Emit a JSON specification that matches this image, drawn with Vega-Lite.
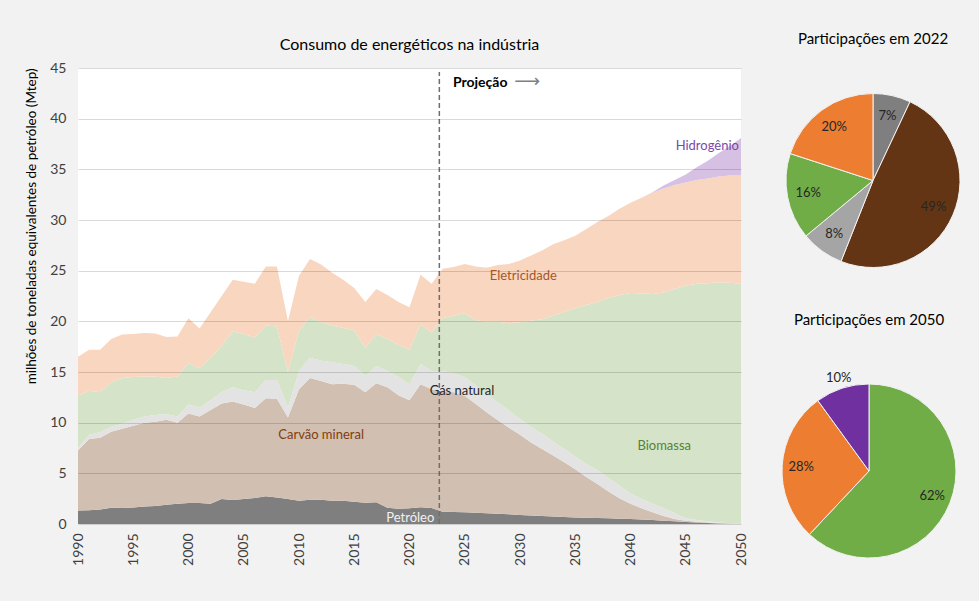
{
  "$schema": "https://vega.github.io/schema/vega-lite/v6.json",
  "background": "#f2f2f2",
  "padding": {"left": 24, "top": 32, "right": 17, "bottom": 35},
  "config": {"font": "Lato", "view": {"stroke": null}},
  "bounds": "flush",
  "spacing": 45,
  "datasets": {
    "energy": [
      {"year":1990,"series":"Petróleo","value":1.32},{"year":1990,"series":"Carvão mineral","value":5.93},{"year":1990,"series":"Gás natural","value":0.25},{"year":1990,"series":"Biomassa","value":5.15},{"year":1990,"series":"Eletricidade","value":3.85},
      {"year":1991,"series":"Petróleo","value":1.36},{"year":1991,"series":"Carvão mineral","value":7.04},{"year":1991,"series":"Gás natural","value":0.40},{"year":1991,"series":"Biomassa","value":4.35},{"year":1991,"series":"Eletricidade","value":4.05},
      {"year":1992,"series":"Petróleo","value":1.42},{"year":1992,"series":"Carvão mineral","value":7.08},{"year":1992,"series":"Gás natural","value":0.55},{"year":1992,"series":"Biomassa","value":3.95},{"year":1992,"series":"Eletricidade","value":4.20},
      {"year":1993,"series":"Petróleo","value":1.60},{"year":1993,"series":"Carvão mineral","value":7.50},{"year":1993,"series":"Gás natural","value":0.50},{"year":1993,"series":"Biomassa","value":4.40},{"year":1993,"series":"Eletricidade","value":4.25},
      {"year":1994,"series":"Petróleo","value":1.58},{"year":1994,"series":"Carvão mineral","value":7.82},{"year":1994,"series":"Gás natural","value":0.50},{"year":1994,"series":"Biomassa","value":4.50},{"year":1994,"series":"Eletricidade","value":4.30},
      {"year":1995,"series":"Petróleo","value":1.62},{"year":1995,"series":"Carvão mineral","value":8.08},{"year":1995,"series":"Gás natural","value":0.60},{"year":1995,"series":"Biomassa","value":4.20},{"year":1995,"series":"Eletricidade","value":4.25},
      {"year":1996,"series":"Petróleo","value":1.72},{"year":1996,"series":"Carvão mineral","value":8.28},{"year":1996,"series":"Gás natural","value":0.60},{"year":1996,"series":"Biomassa","value":3.95},{"year":1996,"series":"Eletricidade","value":4.30},
      {"year":1997,"series":"Petróleo","value":1.78},{"year":1997,"series":"Carvão mineral","value":8.32},{"year":1997,"series":"Gás natural","value":0.65},{"year":1997,"series":"Biomassa","value":3.80},{"year":1997,"series":"Eletricidade","value":4.25},
      {"year":1998,"series":"Petróleo","value":1.90},{"year":1998,"series":"Carvão mineral","value":8.40},{"year":1998,"series":"Gás natural","value":0.55},{"year":1998,"series":"Biomassa","value":3.55},{"year":1998,"series":"Eletricidade","value":4.05},
      {"year":1999,"series":"Petróleo","value":2.00},{"year":1999,"series":"Carvão mineral","value":8.00},{"year":1999,"series":"Gás natural","value":0.60},{"year":1999,"series":"Biomassa","value":3.95},{"year":1999,"series":"Eletricidade","value":3.95},
      {"year":2000,"series":"Petróleo","value":2.07},{"year":2000,"series":"Carvão mineral","value":8.83},{"year":2000,"series":"Gás natural","value":0.90},{"year":2000,"series":"Biomassa","value":4.10},{"year":2000,"series":"Eletricidade","value":4.40},
      {"year":2001,"series":"Petróleo","value":2.07},{"year":2001,"series":"Carvão mineral","value":8.53},{"year":2001,"series":"Gás natural","value":0.90},{"year":2001,"series":"Biomassa","value":3.90},{"year":2001,"series":"Eletricidade","value":3.90},
      {"year":2002,"series":"Petróleo","value":2.00},{"year":2002,"series":"Carvão mineral","value":9.25},{"year":2002,"series":"Gás natural","value":0.95},{"year":2002,"series":"Biomassa","value":4.20},{"year":2002,"series":"Eletricidade","value":4.50},
      {"year":2003,"series":"Petróleo","value":2.47},{"year":2003,"series":"Carvão mineral","value":9.43},{"year":2003,"series":"Gás natural","value":1.10},{"year":2003,"series":"Biomassa","value":4.60},{"year":2003,"series":"Eletricidade","value":4.90},
      {"year":2004,"series":"Petróleo","value":2.37},{"year":2004,"series":"Carvão mineral","value":9.73},{"year":2004,"series":"Gás natural","value":1.40},{"year":2004,"series":"Biomassa","value":5.50},{"year":2004,"series":"Eletricidade","value":5.10},
      {"year":2005,"series":"Petróleo","value":2.47},{"year":2005,"series":"Carvão mineral","value":9.33},{"year":2005,"series":"Gás natural","value":1.40},{"year":2005,"series":"Biomassa","value":5.55},{"year":2005,"series":"Eletricidade","value":5.15},
      {"year":2006,"series":"Petróleo","value":2.57},{"year":2006,"series":"Carvão mineral","value":8.88},{"year":2006,"series":"Gás natural","value":1.55},{"year":2006,"series":"Biomassa","value":5.40},{"year":2006,"series":"Eletricidade","value":5.30},
      {"year":2007,"series":"Petróleo","value":2.75},{"year":2007,"series":"Carvão mineral","value":9.65},{"year":2007,"series":"Gás natural","value":1.80},{"year":2007,"series":"Biomassa","value":5.40},{"year":2007,"series":"Eletricidade","value":5.80},
      {"year":2008,"series":"Petróleo","value":2.62},{"year":2008,"series":"Carvão mineral","value":9.73},{"year":2008,"series":"Gás natural","value":1.85},{"year":2008,"series":"Biomassa","value":5.30},{"year":2008,"series":"Eletricidade","value":5.90},
      {"year":2009,"series":"Petróleo","value":2.47},{"year":2009,"series":"Carvão mineral","value":8.03},{"year":2009,"series":"Gás natural","value":1.00},{"year":2009,"series":"Biomassa","value":3.50},{"year":2009,"series":"Eletricidade","value":5.00},
      {"year":2010,"series":"Petróleo","value":2.30},{"year":2010,"series":"Carvão mineral","value":11.00},{"year":2010,"series":"Gás natural","value":1.80},{"year":2010,"series":"Biomassa","value":4.00},{"year":2010,"series":"Eletricidade","value":5.40},
      {"year":2011,"series":"Petróleo","value":2.40},{"year":2011,"series":"Carvão mineral","value":12.00},{"year":2011,"series":"Gás natural","value":2.00},{"year":2011,"series":"Biomassa","value":4.00},{"year":2011,"series":"Eletricidade","value":5.75},
      {"year":2012,"series":"Petróleo","value":2.40},{"year":2012,"series":"Carvão mineral","value":11.70},{"year":2012,"series":"Gás natural","value":2.00},{"year":2012,"series":"Biomassa","value":3.80},{"year":2012,"series":"Eletricidade","value":5.70},
      {"year":2013,"series":"Petróleo","value":2.30},{"year":2013,"series":"Carvão mineral","value":11.50},{"year":2013,"series":"Gás natural","value":2.15},{"year":2013,"series":"Biomassa","value":3.65},{"year":2013,"series":"Eletricidade","value":5.20},
      {"year":2014,"series":"Petróleo","value":2.30},{"year":2014,"series":"Carvão mineral","value":11.55},{"year":2014,"series":"Gás natural","value":1.95},{"year":2014,"series":"Biomassa","value":3.55},{"year":2014,"series":"Eletricidade","value":4.75},
      {"year":2015,"series":"Petróleo","value":2.20},{"year":2015,"series":"Carvão mineral","value":11.55},{"year":2015,"series":"Gás natural","value":1.85},{"year":2015,"series":"Biomassa","value":3.50},{"year":2015,"series":"Eletricidade","value":4.20},
      {"year":2016,"series":"Petróleo","value":2.10},{"year":2016,"series":"Carvão mineral","value":10.90},{"year":2016,"series":"Gás natural","value":1.60},{"year":2016,"series":"Biomassa","value":2.80},{"year":2016,"series":"Eletricidade","value":4.50},
      {"year":2017,"series":"Petróleo","value":2.15},{"year":2017,"series":"Carvão mineral","value":11.75},{"year":2017,"series":"Gás natural","value":1.70},{"year":2017,"series":"Biomassa","value":3.15},{"year":2017,"series":"Eletricidade","value":4.45},
      {"year":2018,"series":"Petróleo","value":1.60},{"year":2018,"series":"Carvão mineral","value":11.90},{"year":2018,"series":"Gás natural","value":1.60},{"year":2018,"series":"Biomassa","value":3.15},{"year":2018,"series":"Eletricidade","value":4.35},
      {"year":2019,"series":"Petróleo","value":1.50},{"year":2019,"series":"Carvão mineral","value":11.20},{"year":2019,"series":"Gás natural","value":1.80},{"year":2019,"series":"Biomassa","value":3.20},{"year":2019,"series":"Eletricidade","value":4.20},
      {"year":2020,"series":"Petróleo","value":1.55},{"year":2020,"series":"Carvão mineral","value":10.65},{"year":2020,"series":"Gás natural","value":1.60},{"year":2020,"series":"Biomassa","value":3.40},{"year":2020,"series":"Eletricidade","value":4.20},
      {"year":2021,"series":"Petróleo","value":1.65},{"year":2021,"series":"Carvão mineral","value":12.15},{"year":2021,"series":"Gás natural","value":2.00},{"year":2021,"series":"Biomassa","value":3.90},{"year":2021,"series":"Eletricidade","value":4.90},
      {"year":2022,"series":"Petróleo","value":1.58},{"year":2022,"series":"Carvão mineral","value":11.72},{"year":2022,"series":"Gás natural","value":1.80},{"year":2022,"series":"Biomassa","value":3.80},{"year":2022,"series":"Eletricidade","value":4.80},
      {"year":2023,"series":"Petróleo","value":1.20},{"year":2023,"series":"Carvão mineral","value":11.90},{"year":2023,"series":"Gás natural","value":2.00},{"year":2023,"series":"Biomassa","value":5.20},{"year":2023,"series":"Eletricidade","value":4.90},
      {"year":2024,"series":"Petróleo","value":1.18},{"year":2024,"series":"Carvão mineral","value":11.82},{"year":2024,"series":"Gás natural","value":1.85},{"year":2024,"series":"Biomassa","value":5.70},{"year":2024,"series":"Eletricidade","value":4.80},
      {"year":2025,"series":"Petróleo","value":1.15},{"year":2025,"series":"Carvão mineral","value":11.50},{"year":2025,"series":"Gás natural","value":1.85},{"year":2025,"series":"Biomassa","value":6.30},{"year":2025,"series":"Eletricidade","value":4.85},
      {"year":2026,"series":"Petróleo","value":1.10},{"year":2026,"series":"Carvão mineral","value":10.75},{"year":2026,"series":"Gás natural","value":1.80},{"year":2026,"series":"Biomassa","value":6.45},{"year":2026,"series":"Eletricidade","value":5.30},
      {"year":2027,"series":"Petróleo","value":1.05},{"year":2027,"series":"Carvão mineral","value":9.95},{"year":2027,"series":"Gás natural","value":1.80},{"year":2027,"series":"Biomassa","value":7.15},{"year":2027,"series":"Eletricidade","value":5.35},
      {"year":2028,"series":"Petróleo","value":1.00},{"year":2028,"series":"Carvão mineral","value":9.25},{"year":2028,"series":"Gás natural","value":1.75},{"year":2028,"series":"Biomassa","value":7.95},{"year":2028,"series":"Eletricidade","value":5.60},
      {"year":2029,"series":"Petróleo","value":0.95},{"year":2029,"series":"Carvão mineral","value":8.55},{"year":2029,"series":"Gás natural","value":1.70},{"year":2029,"series":"Biomassa","value":8.60},{"year":2029,"series":"Eletricidade","value":5.85},
      {"year":2030,"series":"Petróleo","value":0.90},{"year":2030,"series":"Carvão mineral","value":7.90},{"year":2030,"series":"Gás natural","value":1.55},{"year":2030,"series":"Biomassa","value":9.55},{"year":2030,"series":"Eletricidade","value":6.10},
      {"year":2031,"series":"Petróleo","value":0.85},{"year":2031,"series":"Carvão mineral","value":7.20},{"year":2031,"series":"Gás natural","value":1.55},{"year":2031,"series":"Biomassa","value":10.45},{"year":2031,"series":"Eletricidade","value":6.45},
      {"year":2032,"series":"Petróleo","value":0.80},{"year":2032,"series":"Carvão mineral","value":6.60},{"year":2032,"series":"Gás natural","value":1.50},{"year":2032,"series":"Biomassa","value":11.30},{"year":2032,"series":"Eletricidade","value":6.80},
      {"year":2033,"series":"Petróleo","value":0.75},{"year":2033,"series":"Carvão mineral","value":6.00},{"year":2033,"series":"Gás natural","value":1.40},{"year":2033,"series":"Biomassa","value":12.40},{"year":2033,"series":"Eletricidade","value":7.05},
      {"year":2034,"series":"Petróleo","value":0.70},{"year":2034,"series":"Carvão mineral","value":5.40},{"year":2034,"series":"Gás natural","value":1.30},{"year":2034,"series":"Biomassa","value":13.55},{"year":2034,"series":"Eletricidade","value":7.05},
      {"year":2035,"series":"Petróleo","value":0.65},{"year":2035,"series":"Carvão mineral","value":4.75},{"year":2035,"series":"Gás natural","value":1.25},{"year":2035,"series":"Biomassa","value":14.65},{"year":2035,"series":"Eletricidade","value":7.15},
      {"year":2036,"series":"Petróleo","value":0.62},{"year":2036,"series":"Carvão mineral","value":4.03},{"year":2036,"series":"Gás natural","value":1.25},{"year":2036,"series":"Biomassa","value":15.70},{"year":2036,"series":"Eletricidade","value":7.50},
      {"year":2037,"series":"Petróleo","value":0.59},{"year":2037,"series":"Carvão mineral","value":3.36},{"year":2037,"series":"Gás natural","value":1.35},{"year":2037,"series":"Biomassa","value":16.60},{"year":2037,"series":"Eletricidade","value":7.90},
      {"year":2038,"series":"Petróleo","value":0.56},{"year":2038,"series":"Carvão mineral","value":2.64},{"year":2038,"series":"Gás natural","value":1.35},{"year":2038,"series":"Biomassa","value":17.75},{"year":2038,"series":"Eletricidade","value":8.10},
      {"year":2039,"series":"Petróleo","value":0.53},{"year":2039,"series":"Carvão mineral","value":2.02},{"year":2039,"series":"Gás natural","value":1.25},{"year":2039,"series":"Biomassa","value":18.80},{"year":2039,"series":"Eletricidade","value":8.50},
      {"year":2040,"series":"Petróleo","value":0.50},{"year":2040,"series":"Carvão mineral","value":1.50},{"year":2040,"series":"Gás natural","value":1.00},{"year":2040,"series":"Biomassa","value":19.80},{"year":2040,"series":"Eletricidade","value":8.90},
      {"year":2041,"series":"Petróleo","value":0.45},{"year":2041,"series":"Carvão mineral","value":1.10},{"year":2041,"series":"Gás natural","value":0.95},{"year":2041,"series":"Biomassa","value":20.25},{"year":2041,"series":"Eletricidade","value":9.45},{"year":2041,"series":"Hidrogênio","value":0.0},
      {"year":2042,"series":"Petróleo","value":0.40},{"year":2042,"series":"Carvão mineral","value":0.75},{"year":2042,"series":"Gás natural","value":0.85},{"year":2042,"series":"Biomassa","value":20.70},{"year":2042,"series":"Eletricidade","value":10.00},{"year":2042,"series":"Hidrogênio","value":0.05},
      {"year":2043,"series":"Petróleo","value":0.33},{"year":2043,"series":"Carvão mineral","value":0.47},{"year":2043,"series":"Gás natural","value":0.75},{"year":2043,"series":"Biomassa","value":21.30},{"year":2043,"series":"Eletricidade","value":10.25},{"year":2043,"series":"Hidrogênio","value":0.30},
      {"year":2044,"series":"Petróleo","value":0.26},{"year":2044,"series":"Carvão mineral","value":0.24},{"year":2044,"series":"Gás natural","value":0.55},{"year":2044,"series":"Biomassa","value":22.15},{"year":2044,"series":"Eletricidade","value":10.25},{"year":2044,"series":"Hidrogênio","value":0.50},
      {"year":2045,"series":"Petróleo","value":0.20},{"year":2045,"series":"Carvão mineral","value":0.13},{"year":2045,"series":"Gás natural","value":0.23},{"year":2045,"series":"Biomassa","value":22.94},{"year":2045,"series":"Eletricidade","value":10.20},{"year":2045,"series":"Hidrogênio","value":0.80},
      {"year":2046,"series":"Petróleo","value":0.15},{"year":2046,"series":"Carvão mineral","value":0.07},{"year":2046,"series":"Gás natural","value":0.18},{"year":2046,"series":"Biomassa","value":23.30},{"year":2046,"series":"Eletricidade","value":10.25},{"year":2046,"series":"Hidrogênio","value":1.25},
      {"year":2047,"series":"Petróleo","value":0.10},{"year":2047,"series":"Carvão mineral","value":0.05},{"year":2047,"series":"Gás natural","value":0.11},{"year":2047,"series":"Biomassa","value":23.49},{"year":2047,"series":"Eletricidade","value":10.35},{"year":2047,"series":"Hidrogênio","value":1.75},
      {"year":2048,"series":"Petróleo","value":0.06},{"year":2048,"series":"Carvão mineral","value":0.04},{"year":2048,"series":"Gás natural","value":0.06},{"year":2048,"series":"Biomassa","value":23.69},{"year":2048,"series":"Eletricidade","value":10.45},{"year":2048,"series":"Hidrogênio","value":2.30},
      {"year":2049,"series":"Petróleo","value":0.03},{"year":2049,"series":"Carvão mineral","value":0.02},{"year":2049,"series":"Gás natural","value":0.02},{"year":2049,"series":"Biomassa","value":23.73},{"year":2049,"series":"Eletricidade","value":10.60},{"year":2049,"series":"Hidrogênio","value":2.90},
      {"year":2050,"series":"Petróleo","value":0.0},{"year":2050,"series":"Carvão mineral","value":0.0},{"year":2050,"series":"Gás natural","value":0.0},{"year":2050,"series":"Biomassa","value":23.70},{"year":2050,"series":"Eletricidade","value":10.70},{"year":2050,"series":"Hidrogênio","value":3.70}
    ],
    "pie2022": [
      {"series":"Petróleo","share":0.07},
      {"series":"Carvão mineral","share":0.49},
      {"series":"Gás natural","share":0.08},
      {"series":"Biomassa","share":0.16},
      {"series":"Eletricidade","share":0.20}
    ],
    "pie2050": [
      {"series":"Biomassa","share":0.62},
      {"series":"Eletricidade","share":0.28},
      {"series":"Hidrogênio","share":0.10}
    ]
  },
  "hconcat": [
    {
      "width": 663,
      "height": 456,
      "view": {"fill": "#ffffff", "stroke": null},
      "title": {"text": "Consumo de energéticos na indústria", "fontSize": 16, "fontWeight": "normal", "color": "#000000", "offset": 8},
      "layer": [
        {
          "data": {"name": "energy"},
          "transform": [{"calculate": "indexof(['Petróleo','Carvão mineral','Gás natural','Biomassa','Eletricidade','Hidrogênio'], datum.series)", "as": "stackOrder"}],
          "mark": {"type": "area", "interpolate": "linear"},
          "encoding": {
            "x": {"field": "year", "type": "quantitative",
              "scale": {"domain": [1990, 2050], "nice": false, "zero": false},
              "axis": {"values": [1990,1995,2000,2005,2010,2015,2020,2025,2030,2035,2040,2045,2050], "format": "d", "labelAngle": 270, "labelFontSize": 14, "labelColor": "#404040", "grid": false, "ticks": false, "domain": false, "title": null, "labelPadding": 9}},
            "y": {"field": "value", "type": "quantitative", "stack": "zero",
              "scale": {"domain": [0, 45], "nice": false},
              "axis": {"values": [0,5,10,15,20,25,30,35,40,45], "labelFontSize": 14, "labelColor": "#404040", "grid": true, "gridColor": "#000000", "gridOpacity": 0.15, "ticks": false, "domain": false, "labelPadding": 12, "title": "milhões de toneladas equivalentes de petróleo (Mtep)", "titleFontSize": 13.5, "titleFontWeight": "normal", "titleColor": "#000000", "titleAnchor": "end", "titlePadding": 11, "zindex": 1}},
            "color": {"field": "series", "type": "nominal",
              "scale": {"domain": ["Petróleo","Carvão mineral","Gás natural","Biomassa","Eletricidade","Hidrogênio"], "range": ["#7f7f7f","#d1bfb1","#e3e3e3","#d5e4c8","#f9d6c0","#d6c1e4"]},
              "legend": null},
            "order": {"field": "stackOrder", "type": "quantitative", "sort": "ascending"}
          }
        },
        {
          "data": {"values": [{}]},
          "mark": {"type": "rule", "color": "#6f6f6f", "strokeWidth": 1.5, "strokeDash": [5, 3]},
          "encoding": {"x": {"datum": 2022.7, "type": "quantitative"}, "y": {"datum": 0, "type": "quantitative"}, "y2": {"datum": 44.6}}
        },
        {
          "data": {"values": [{}]},
          "mark": {"type": "text", "fontSize": 13, "color": "#843c0c", "align": "center", "baseline": "middle"},
          "encoding": {"x": {"datum": 2012.0, "type": "quantitative"}, "y": {"datum": 8.75, "type": "quantitative"}, "text": {"value": "Carvão mineral"}}
        },
        {
          "data": {"values": [{}]},
          "mark": {"type": "text", "fontSize": 13, "color": "#262626", "align": "center", "baseline": "middle"},
          "encoding": {"x": {"datum": 2024.75, "type": "quantitative"}, "y": {"datum": 13.1, "type": "quantitative"}, "text": {"value": "Gás natural"}}
        },
        {
          "data": {"values": [{}]},
          "mark": {"type": "text", "fontSize": 13, "color": "#548235", "align": "center", "baseline": "middle"},
          "encoding": {"x": {"datum": 2043.05, "type": "quantitative"}, "y": {"datum": 7.65, "type": "quantitative"}, "text": {"value": "Biomassa"}}
        },
        {
          "data": {"values": [{}]},
          "mark": {"type": "text", "fontSize": 13, "color": "#a4582a", "align": "center", "baseline": "middle"},
          "encoding": {"x": {"datum": 2030.3, "type": "quantitative"}, "y": {"datum": 24.5, "type": "quantitative"}, "text": {"value": "Eletricidade"}}
        },
        {
          "data": {"values": [{}]},
          "mark": {"type": "text", "fontSize": 13, "color": "#7a48a8", "align": "center", "baseline": "middle"},
          "encoding": {"x": {"datum": 2046.95, "type": "quantitative"}, "y": {"datum": 37.3, "type": "quantitative"}, "text": {"value": "Hidrogênio"}}
        },
        {
          "data": {"values": [{}]},
          "mark": {"type": "text", "fontSize": 13, "color": "#f2f2f2", "align": "center", "baseline": "middle"},
          "encoding": {"x": {"datum": 2020.07, "type": "quantitative"}, "y": {"datum": 0.62, "type": "quantitative"}, "text": {"value": "Petróleo"}}
        },
        {
          "data": {"values": [{}]},
          "mark": {"type": "text", "fontSize": 14, "fontWeight": "bold", "color": "#000000", "align": "center", "baseline": "middle"},
          "encoding": {"x": {"datum": 2026.4, "type": "quantitative"}, "y": {"datum": 43.5, "type": "quantitative"}, "text": {"value": "Projeção"}}
        },
        {
          "data": {"values": [{}]},
          "mark": {"type": "text", "fontSize": 18, "font": "DejaVu Sans", "color": "#7f7f7f", "align": "center", "baseline": "middle"},
          "encoding": {"x": {"datum": 2030.65, "type": "quantitative"}, "y": {"datum": 43.6, "type": "quantitative"}, "text": {"value": "⟶"}}
        }
      ]
    },
    {
      "bounds": "flush",
      "spacing": 91,
      "vconcat": [
        {
          "width": 174,
          "height": 225,
          "title": {"text": "Participações em 2022", "fontSize": 15, "fontWeight": "normal", "color": "#000000", "offset": 21},
          "data": {"name": "pie2022"},
          "transform": [{"calculate": "indexof(['Petróleo','Carvão mineral','Gás natural','Biomassa','Eletricidade'], datum.series)", "as": "sliceOrder"}],
          "encoding": {
            "theta": {"field": "share", "type": "quantitative", "stack": true},
            "order": {"field": "sliceOrder", "type": "quantitative", "sort": "ascending"}
          },
          "layer": [
            {
              "mark": {"type": "arc", "outerRadius": 87, "stroke": "#f2f2f2", "strokeWidth": 1},
              "encoding": {"color": {"field": "series", "type": "nominal",
                "scale": {"domain": ["Petróleo","Carvão mineral","Gás natural","Biomassa","Eletricidade"], "range": ["#7f7f7f","#643514","#a5a5a5","#70ad47","#ed7d31"]},
                "legend": null}}
            },
            {
              "mark": {"type": "text", "radius": 66, "fontSize": 13},
              "encoding": {
                "text": {"field": "share", "type": "quantitative", "format": ".0%"},
                "color": {"field": "series", "type": "nominal",
                  "scale": {"domain": ["Petróleo","Carvão mineral","Gás natural","Biomassa","Eletricidade"], "range": ["#262626","#262626","#262626","#262626","#262626"]},
                  "legend": null}
              }
            }
          ],
          "resolve": {"scale": {"color": "independent"}}
        },
        {
          "width": 166,
          "height": 174,
          "title": {"text": "Participações em 2050", "fontSize": 15, "fontWeight": "normal", "color": "#000000", "offset": 44},
          "data": {"name": "pie2050"},
          "transform": [{"calculate": "indexof(['Biomassa','Eletricidade','Hidrogênio'], datum.series)", "as": "sliceOrder"}],
          "encoding": {
            "theta": {"field": "share", "type": "quantitative", "stack": true},
            "order": {"field": "sliceOrder", "type": "quantitative", "sort": "ascending"}
          },
          "layer": [
            {
              "mark": {"type": "arc", "outerRadius": 87, "stroke": "#f2f2f2", "strokeWidth": 1},
              "encoding": {"color": {"field": "series", "type": "nominal",
                "scale": {"domain": ["Biomassa","Eletricidade","Hidrogênio"], "range": ["#70ad47","#ed7d31","#7030a0"]},
                "legend": null}}
            },
            {
              "mark": {"type": "text", "radius": 68, "fontSize": 13},
              "encoding": {
                "text": {"field": "share", "type": "quantitative", "format": ".0%", "condition": {"test": "datum.series === 'Hidrogênio'", "value": ""}},
                "color": {"field": "series", "type": "nominal",
                  "scale": {"domain": ["Biomassa","Eletricidade","Hidrogênio"], "range": ["#262626","#262626","#262626"]},
                  "legend": null}
              }
            },
            {
              "mark": {"type": "text", "radius": 98, "fontSize": 13},
              "encoding": {
                "text": {"field": "share", "type": "quantitative", "format": ".0%", "condition": {"test": "datum.series !== 'Hidrogênio'", "value": ""}},
                "color": {"field": "series", "type": "nominal",
                  "scale": {"domain": ["Biomassa","Eletricidade","Hidrogênio"], "range": ["#262626","#262626","#262626"]},
                  "legend": null}
              }
            }
          ],
          "resolve": {"scale": {"color": "independent"}}
        }
      ]
    }
  ]
}
